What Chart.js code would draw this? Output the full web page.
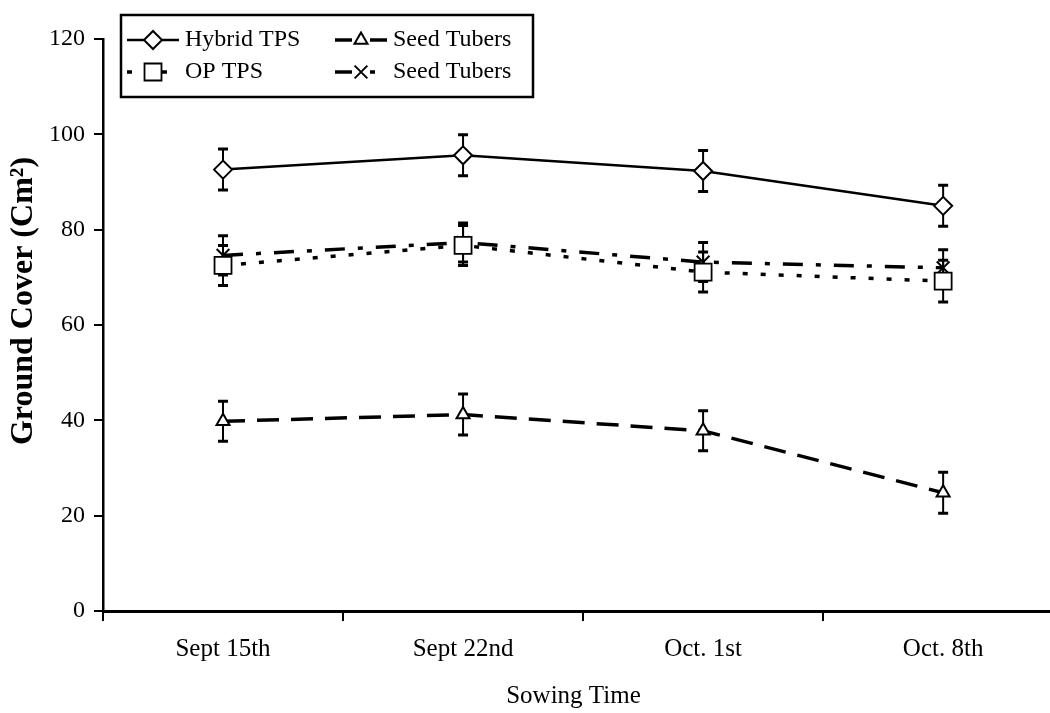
<!DOCTYPE html>
<html>
<head>
<meta charset="utf-8">
<title>Ground Cover by Sowing Time</title>
<script src="https://cdn.jsdelivr.net/npm/chart.js@4.4.0/dist/chart.umd.min.js"></script>
<style>
  html, body { margin: 0; padding: 0; background: #fff; overflow: hidden; }
  #wrap { width: 1064px; height: 713px; }
  canvas { display: block; }
</style>
</head>
<body>
<div id="wrap"><canvas id="cover-chart" width="1064" height="713"></canvas></div>
<script>
// --- DATA ---
const sowingTimes = ['Sept 15th', 'Sept 22nd', 'Oct. 1st', 'Oct. 8th'];
const yTicks = [0, 20, 40, 60, 80, 100, 120];

const hybridTps = [92.6, 95.6, 92.3, 85.0];
const hybridTpsErr = [4.3, 4.3, 4.3, 4.3];

const opTps = [72.5, 76.7, 71.1, 69.2];
const opTpsErr = [4.2, 4.2, 4.2, 4.4];

const seedTubersA = [39.8, 41.2, 37.8, 24.8];
const seedTubersAErr = [4.2, 4.3, 4.2, 4.3];

const seedTubersB = [74.6, 77.3, 73.2, 72.0];
const seedTubersBErr = [4.1, 4.1, 4.1, 3.8];

const serif = 'Liberation Serif';

// the original plot runs past the right edge of the picture,
// so the x range stops a bit before the last category boundary
const xMin = 0.5;
const xMax = 4.446;

// --- PLUGINS ---

// vertical error bars, drawn under the lines so the white markers cover them
const errorBars = {
    id: 'errorBars',
    beforeDatasetsDraw(chart) {
        const { ctx, scales: { y } } = chart;
        ctx.save();
        ctx.strokeStyle = '#000';
        chart.data.datasets.forEach((ds, i) => {
            const meta = chart.getDatasetMeta(i);
            meta.data.forEach((pt, j) => {
                const v = ds.data[j].y;
                const top = y.getPixelForValue(v + ds.errors[j]);
                const bot = y.getPixelForValue(v - ds.errors[j]);
                ctx.lineWidth = 2;
                ctx.beginPath();
                ctx.moveTo(pt.x, top);
                ctx.lineTo(pt.x, bot);
                ctx.stroke();
                ctx.lineWidth = 3;
                ctx.beginPath();
                ctx.moveTo(pt.x - 5, top); ctx.lineTo(pt.x + 5, top);
                ctx.moveTo(pt.x - 5, bot); ctx.lineTo(pt.x + 5, bot);
                ctx.stroke();
            });
        });
        ctx.restore();
    }
};

// boxed two-column legend with line + marker samples
const boxLegend = {
    id: 'boxLegend',
    afterDraw(chart) {
        const ctx = chart.ctx;
        ctx.save();
        ctx.strokeStyle = '#000';
        ctx.lineWidth = 2.5;
        ctx.strokeRect(121, 15, 412, 82);
        ctx.font = '24px "' + serif + '"';
        ctx.textBaseline = 'middle';
        chart.data.datasets.forEach((ds, i) => {
            const x0 = i < 2 ? 127 : 335;
            const y0 = i % 2 === 0 ? 40 : 72;
            const mid = x0 + 26;
            const dash = ds.borderDash || [];
            ctx.strokeStyle = '#000';
            ctx.lineWidth = ds.borderWidth;
            ctx.setLineDash(dash);
            ctx.lineDashOffset = 0;
            ctx.beginPath(); ctx.moveTo(x0, y0); ctx.lineTo(mid - 9, y0); ctx.stroke();
            ctx.lineDashOffset = dash.length > 2 ? dash[0] + dash[1] : 0;
            ctx.beginPath(); ctx.moveTo(mid + 9, y0); ctx.lineTo(x0 + 52, y0); ctx.stroke();
            ctx.setLineDash([]);
            ctx.lineDashOffset = 0;
            ctx.fillStyle = '#fff';
            ctx.lineWidth = ds.pointBorderWidth;
            Chart.helpers.drawPoint(ctx, {
                pointStyle: ds.pointStyle,
                radius: ds.pointRadius,
                rotation: 0,
                borderWidth: ds.pointBorderWidth
            }, mid, y0);
            ctx.fillStyle = '#000';
            ctx.fillText(ds.label, x0 + 58, y0);
        });
        ctx.restore();
    }
};

// --- CHART ---

function series(label, values, errors, style) {
    return Object.assign({
        label: label,
        data: values.map((v, i) => ({ x: i + 1, y: v })),
        errors: errors,
        borderColor: '#000',
        pointBackgroundColor: '#fff',
        pointBorderColor: '#000',
        fill: false,
        tension: 0
    }, style);
}

new Chart(document.getElementById('cover-chart'), {
    type: 'line',
    data: {
        datasets: [
            series('Hybrid TPS', hybridTps, hybridTpsErr,
                { borderWidth: 2.5, pointStyle: 'rectRot', pointRadius: 9, pointBorderWidth: 2 }),
            series('OP TPS', opTps, opTpsErr,
                { borderWidth: 3.5, borderDash: [5, 13], pointStyle: 'rect', pointRadius: 12, pointBorderWidth: 1.8 }),
            series('Seed Tubers', seedTubersA, seedTubersAErr,
                { borderWidth: 3.5, borderDash: [22, 12], pointStyle: 'triangle', pointRadius: 7.5, pointBorderWidth: 2 }),
            series('Seed Tubers', seedTubersB, seedTubersBErr,
                { borderWidth: 3.5, borderDash: [20, 13, 5, 13], pointStyle: 'crossRot', pointRadius: 9, pointBorderWidth: 2 })
        ]
    },
    options: {
        responsive: false,
        animation: false,
        layout: { padding: { top: 39, right: 0, bottom: 0, left: 0 } },
        plugins: {
            legend: { display: false },
            tooltip: { enabled: false }
        },
        scales: {
            x: {
                type: 'linear',
                min: xMin,
                max: xMax,
                afterBuildTicks(scale) {
                    // tick marks on category boundaries, labels on category centres
                    const ticks = [];
                    sowingTimes.forEach((_, i) => {
                        ticks.push({ value: i + 0.5 });
                        ticks.push({ value: i + 1 });
                    });
                    scale.ticks = ticks;
                },
                grid: {
                    drawOnChartArea: false,
                    lineWidth: 2,
                    tickLength: 10,
                    color: (ctx) => (ctx.tick && Number.isInteger(ctx.tick.value)) ? 'rgba(0,0,0,0)' : '#000'
                },
                border: { color: '#000', width: 3 },
                ticks: {
                    color: '#000',
                    padding: 13,
                    autoSkip: false,
                    maxRotation: 0,
                    font: { family: serif, size: 25 },
                    callback: (value) => Number.isInteger(value) ? sowingTimes[value - 1] : ''
                },
                title: {
                    display: true,
                    text: 'Sowing Time ',
                    color: '#000',
                    font: { family: serif, size: 25 },
                    padding: { top: 0, bottom: 2 }
                },
                afterFit(scale) { scale.height = 102; }
            },
            y: {
                min: yTicks[0],
                max: yTicks[yTicks.length - 1],
                grid: { drawOnChartArea: false, color: '#000', lineWidth: 2, tickLength: 9 },
                border: { color: '#000', width: 2.5 },
                ticks: { stepSize: yTicks[1] - yTicks[0], color: '#000', padding: 9, font: { family: serif, size: 24 } },
                title: {
                    display: true,
                    text: '      Ground Cover (Cm\u00B2)',
                    color: '#000',
                    font: { family: serif, size: 32, weight: 'bold' },
                    padding: { top: 5, bottom: 0 }
                },
                afterFit(scale) { scale.width = 103; }
            }
        }
    },
    plugins: [errorBars, boxLegend]
});
</script>
</body>
</html>
